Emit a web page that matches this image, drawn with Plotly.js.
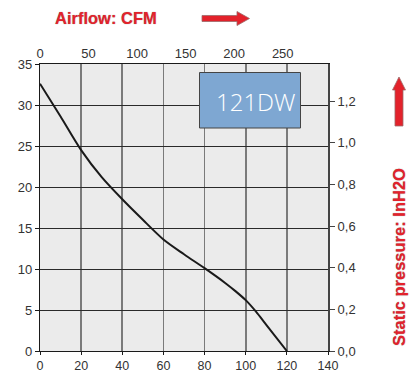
<!DOCTYPE html>
<html>
<head>
<meta charset="utf-8">
<script src="https://cdn.plot.ly/plotly-3.0.1.min.js"></script>
<style>html,body{margin:0;padding:0;background:#fff;}#chart{width:410px;height:372px;}</style>
</head>
<body>
<div id="chart"></div>
<script>
// Data: airflow (l/s, bottom axis) vs static pressure (mmH2O, left axis)
var airflowLs = [0, 10, 20, 30, 40, 50, 60, 70, 80, 90, 95, 100, 105, 110, 120];
var pressureMm = [32.6, 28.6, 24.5, 21.2, 18.5, 16.0, 13.6, 11.8, 10.1, 8.3, 7.3, 6.2, 4.8, 3.2, 0];

var bottomTicks = [0, 20, 40, 60, 80, 100, 120, 140];
var leftTicks = [0, 5, 10, 15, 20, 25, 30, 35];
var topTicks = [0, 50, 100, 150, 200, 250];
var rightTicks = [0, 0.2, 0.4, 0.6, 0.8, 1.0, 1.2];

var modelLabel = '121DW';
var topTitle = 'Airflow: CFM';
var rightTitle = 'Static pressure: InH2O';

var LS_TO_CFM = 2.11888;
var MM_TO_IN = 1 / 25.4;
var xMax = 140, yMax = 35;

// layout geometry (pixels)
var W = 410, H = 372, mL = 40, mR = 82, mT = 64, mB = 21;
var pw = W - mL - mR, ph = H - mT - mB;
function px(x) { return (x - mL) / pw; }
function py(y) { return (H - mB - y) / ph; }
function path(pts) {
  return 'M' + pts.map(function (p) { return px(p[0]).toFixed(4) + ',' + py(p[1]).toFixed(4); }).join(' L') + ' Z';
}

var red = '#e3222b';
var tickFont = { family: 'Liberation Sans, Arial, sans-serif', size: 13, color: '#333333' };
var bottomFont = { family: 'Liberation Sans, Arial, sans-serif', size: 12.5, color: '#333333' };
var redFont = { family: 'Liberation Sans, Arial, sans-serif', size: 16.5,
  color: red, weight: 'bold', shadow: '0 0 1px #8a8a8a' };

var trace = {
  x: airflowLs, y: pressureMm, type: 'scatter', mode: 'lines',
  line: { color: '#1a1a1a', width: 2, shape: 'spline', smoothing: 0.8 },
  hoverinfo: 'skip', showlegend: false
};
// invisible traces to activate secondary axes
var traceTop = { x: [0], y: [0], xaxis: 'x2', yaxis: 'y', mode: 'markers', marker: { opacity: 0 }, showlegend: false, hoverinfo: 'skip' };
var traceRight = { x: [0], y: [0], xaxis: 'x', yaxis: 'y2', mode: 'markers', marker: { opacity: 0 }, showlegend: false, hoverinfo: 'skip' };

var layout = {
  width: W, height: H,
  margin: { l: mL, r: mR, t: mT, b: mB, pad: 0 },
  paper_bgcolor: '#ffffff', plot_bgcolor: '#ebebeb',
  separators: ',.',
  showlegend: false,
  font: tickFont,
  xaxis: {
    range: [0, xMax], tickvals: bottomTicks, ticktext: bottomTicks.map(String),
    showgrid: true, gridcolor: '#7a7a7a', gridwidth: 1.6,
    showline: true, linecolor: '#1a1a1a', linewidth: 1.2, mirror: false,
    ticks: 'outside', ticklen: 3, tickcolor: '#1a1a1a', tickfont: bottomFont,
    zeroline: false, fixedrange: true
  },
  xaxis2: {
    overlaying: 'x', side: 'top', anchor: 'y',
    range: [0, xMax * LS_TO_CFM], tickvals: topTicks, ticktext: topTicks.map(String),
    showgrid: false, showline: true, linecolor: '#1a1a1a', linewidth: 1.2,
    ticks: '', tickfont: tickFont,
    zeroline: false, fixedrange: true
  },
  yaxis: {
    range: [0, yMax], tickvals: leftTicks, ticktext: leftTicks.map(String),
    showgrid: true, gridcolor: '#2a2a2a', gridwidth: 1,
    showline: true, linecolor: '#1a1a1a', linewidth: 1.2,
    ticks: 'outside', ticklen: 4, tickcolor: '#1a1a1a', tickfont: tickFont,
    zeroline: false, fixedrange: true
  },
  yaxis2: {
    overlaying: 'y', side: 'right', anchor: 'x',
    range: [0, yMax * MM_TO_IN], tickvals: rightTicks, tickformat: '.1f',
    showgrid: false, showline: true, linecolor: '#444444', linewidth: 2,
    ticks: 'outside', ticklen: 5, tickcolor: '#444444', tickfont: tickFont,
    zeroline: false, fixedrange: true
  },
  shapes: [
    // model label box
    { type: 'rect', xref: 'paper', yref: 'paper', x0: px(199.5), x1: px(300.5), y0: py(128), y1: py(72.5),
      fillcolor: '#7ea7d2', line: { color: '#444444', width: 1 }, layer: 'above' },
    // horizontal arrow
    { type: 'path', xref: 'paper', yref: 'paper',
      path: path([[202, 15.5], [237, 15.5], [237, 11.5], [249.5, 18.5], [237, 25.5], [237, 21.5], [202, 21.5]]),
      fillcolor: red, line: { color: '#9a6a6a', width: 0.8 }, layer: 'above' },
    // vertical arrow
    { type: 'path', xref: 'paper', yref: 'paper',
      path: path([[395, 126], [395, 90], [392.5, 90], [399, 77], [405.5, 90], [403, 90], [403, 126]]),
      fillcolor: red, line: { color: '#9a6a6a', width: 0.8 }, layer: 'above' }
  ],
  annotations: [
    { xref: 'paper', yref: 'paper', x: px(255), y: py(101), text: modelLabel, showarrow: false,
      font: { family: 'Open Sans, Lato, sans-serif', size: 24, color: '#ffffff', weight: 300 },
      xanchor: 'center', yanchor: 'middle' },
    { xref: 'paper', yref: 'paper', x: px(105.5), y: py(18), text: topTitle, showarrow: false,
      font: redFont, xanchor: 'center', yanchor: 'middle' },
    { xref: 'paper', yref: 'paper', x: px(399), y: py(257), text: rightTitle, showarrow: false,
      textangle: -90, font: redFont, xanchor: 'center', yanchor: 'middle' }
  ]
};

Plotly.newPlot('chart', [trace, traceTop, traceRight], layout, { displayModeBar: false, staticPlot: true });
</script>
</body>
</html>
